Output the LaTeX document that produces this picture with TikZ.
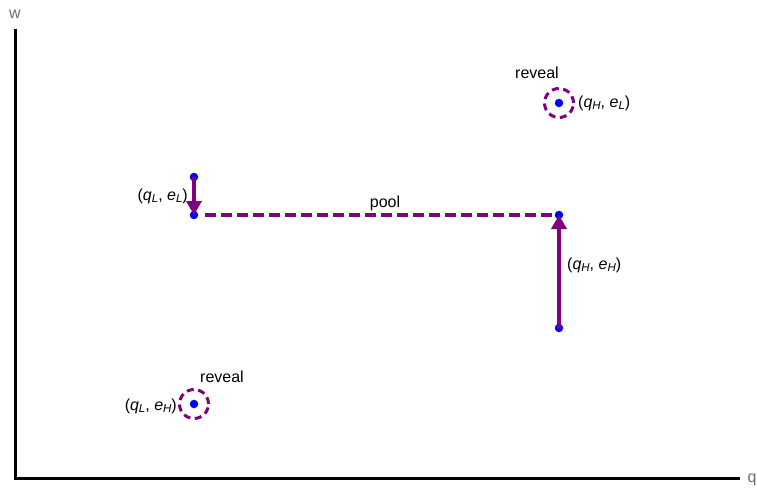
\documentclass[tikz,border=0pt]{standalone}
\usepackage{fontspec}
\setmainfont{Liberation Sans}
\usetikzlibrary{arrows.meta}
\definecolor{pur}{RGB}{128,0,128}
\definecolor{dotblue}{RGB}{0,0,255}
\definecolor{axgray}{RGB}{110,110,110}
\newcommand{\subsc}[1]{\raisebox{-0.3ex}{\fontsize{11.5pt}{12pt}\selectfont\itshape #1}}
\newcommand{\lab}[2]{(\textit{q}\subsc{#1}, \textit{e}\subsc{#2})}
\begin{document}
\begin{tikzpicture}[x=1pt,y=-1pt,
  pt/.style={circle,fill=dotblue,inner sep=0pt,minimum size=8.5pt},
  ring/.style={circle,draw=pur,line width=3pt,dash pattern=on 7pt off 4.5pt,minimum size=29pt,inner sep=0pt},
  lbl/.style={font=\fontsize{16pt}{18pt}\selectfont,inner sep=1pt},
  axlbl/.style={font=\fontsize{16pt}{18pt}\selectfont,text=axgray,inner sep=0pt},
  mv/.style={draw=pur,line width=4.5pt,-{Triangle[length=14pt,width=15pt]}},
  pooled/.style={draw=pur,line width=4pt,dash pattern=on 11pt off 5pt}]
\useasboundingbox (0,0) rectangle (757,489);
\coordinate (o) at (15,478);
\coordinate (ytop) at (15,29);
\coordinate (xend) at (740,478);
\draw[line width=3pt] (ytop) -- (o) -- (xend);
\node[axlbl] (wl) at (15,14) {w};
\node[axlbl] (ql) at (752,480) {q};
% points
\node[pt] (a) at (194,177) {};
\node[pt] (b) at (194,215) {};
\node[pt] (c) at (559,215) {};
\node[pt] (d) at (559,328) {};
\node[pt] (e) at (559,103) {};
\node[pt] (f) at (194,404) {};
\node[ring] (re) at (559,103) {};
\node[ring] (rf) at (194,404) {};
% connectors
\coordinate (bs) at (205,215);
\draw[pooled] (bs) -- (c.west);
\draw[mv] (a.center) -- (b.center);
\draw[mv] (d.center) -- (c.center);
% labels
\node[lbl,anchor=east] (lab1) at (189,196) {\lab{L}{L}};
\node[lbl] (pool) at (385,203) {pool};
\node[lbl,anchor=west] (lab2) at (566,265) {\lab{H}{H}};
\node[lbl] (rev1) at (537,73) {reveal};
\node[lbl,anchor=west] (lab3) at (577,103) {\lab{H}{L}};
\node[lbl] (rev2) at (222,377) {reveal};
\node[lbl,anchor=east] (lab4) at (178,406) {\lab{L}{H}};
\end{tikzpicture}
\end{document}
